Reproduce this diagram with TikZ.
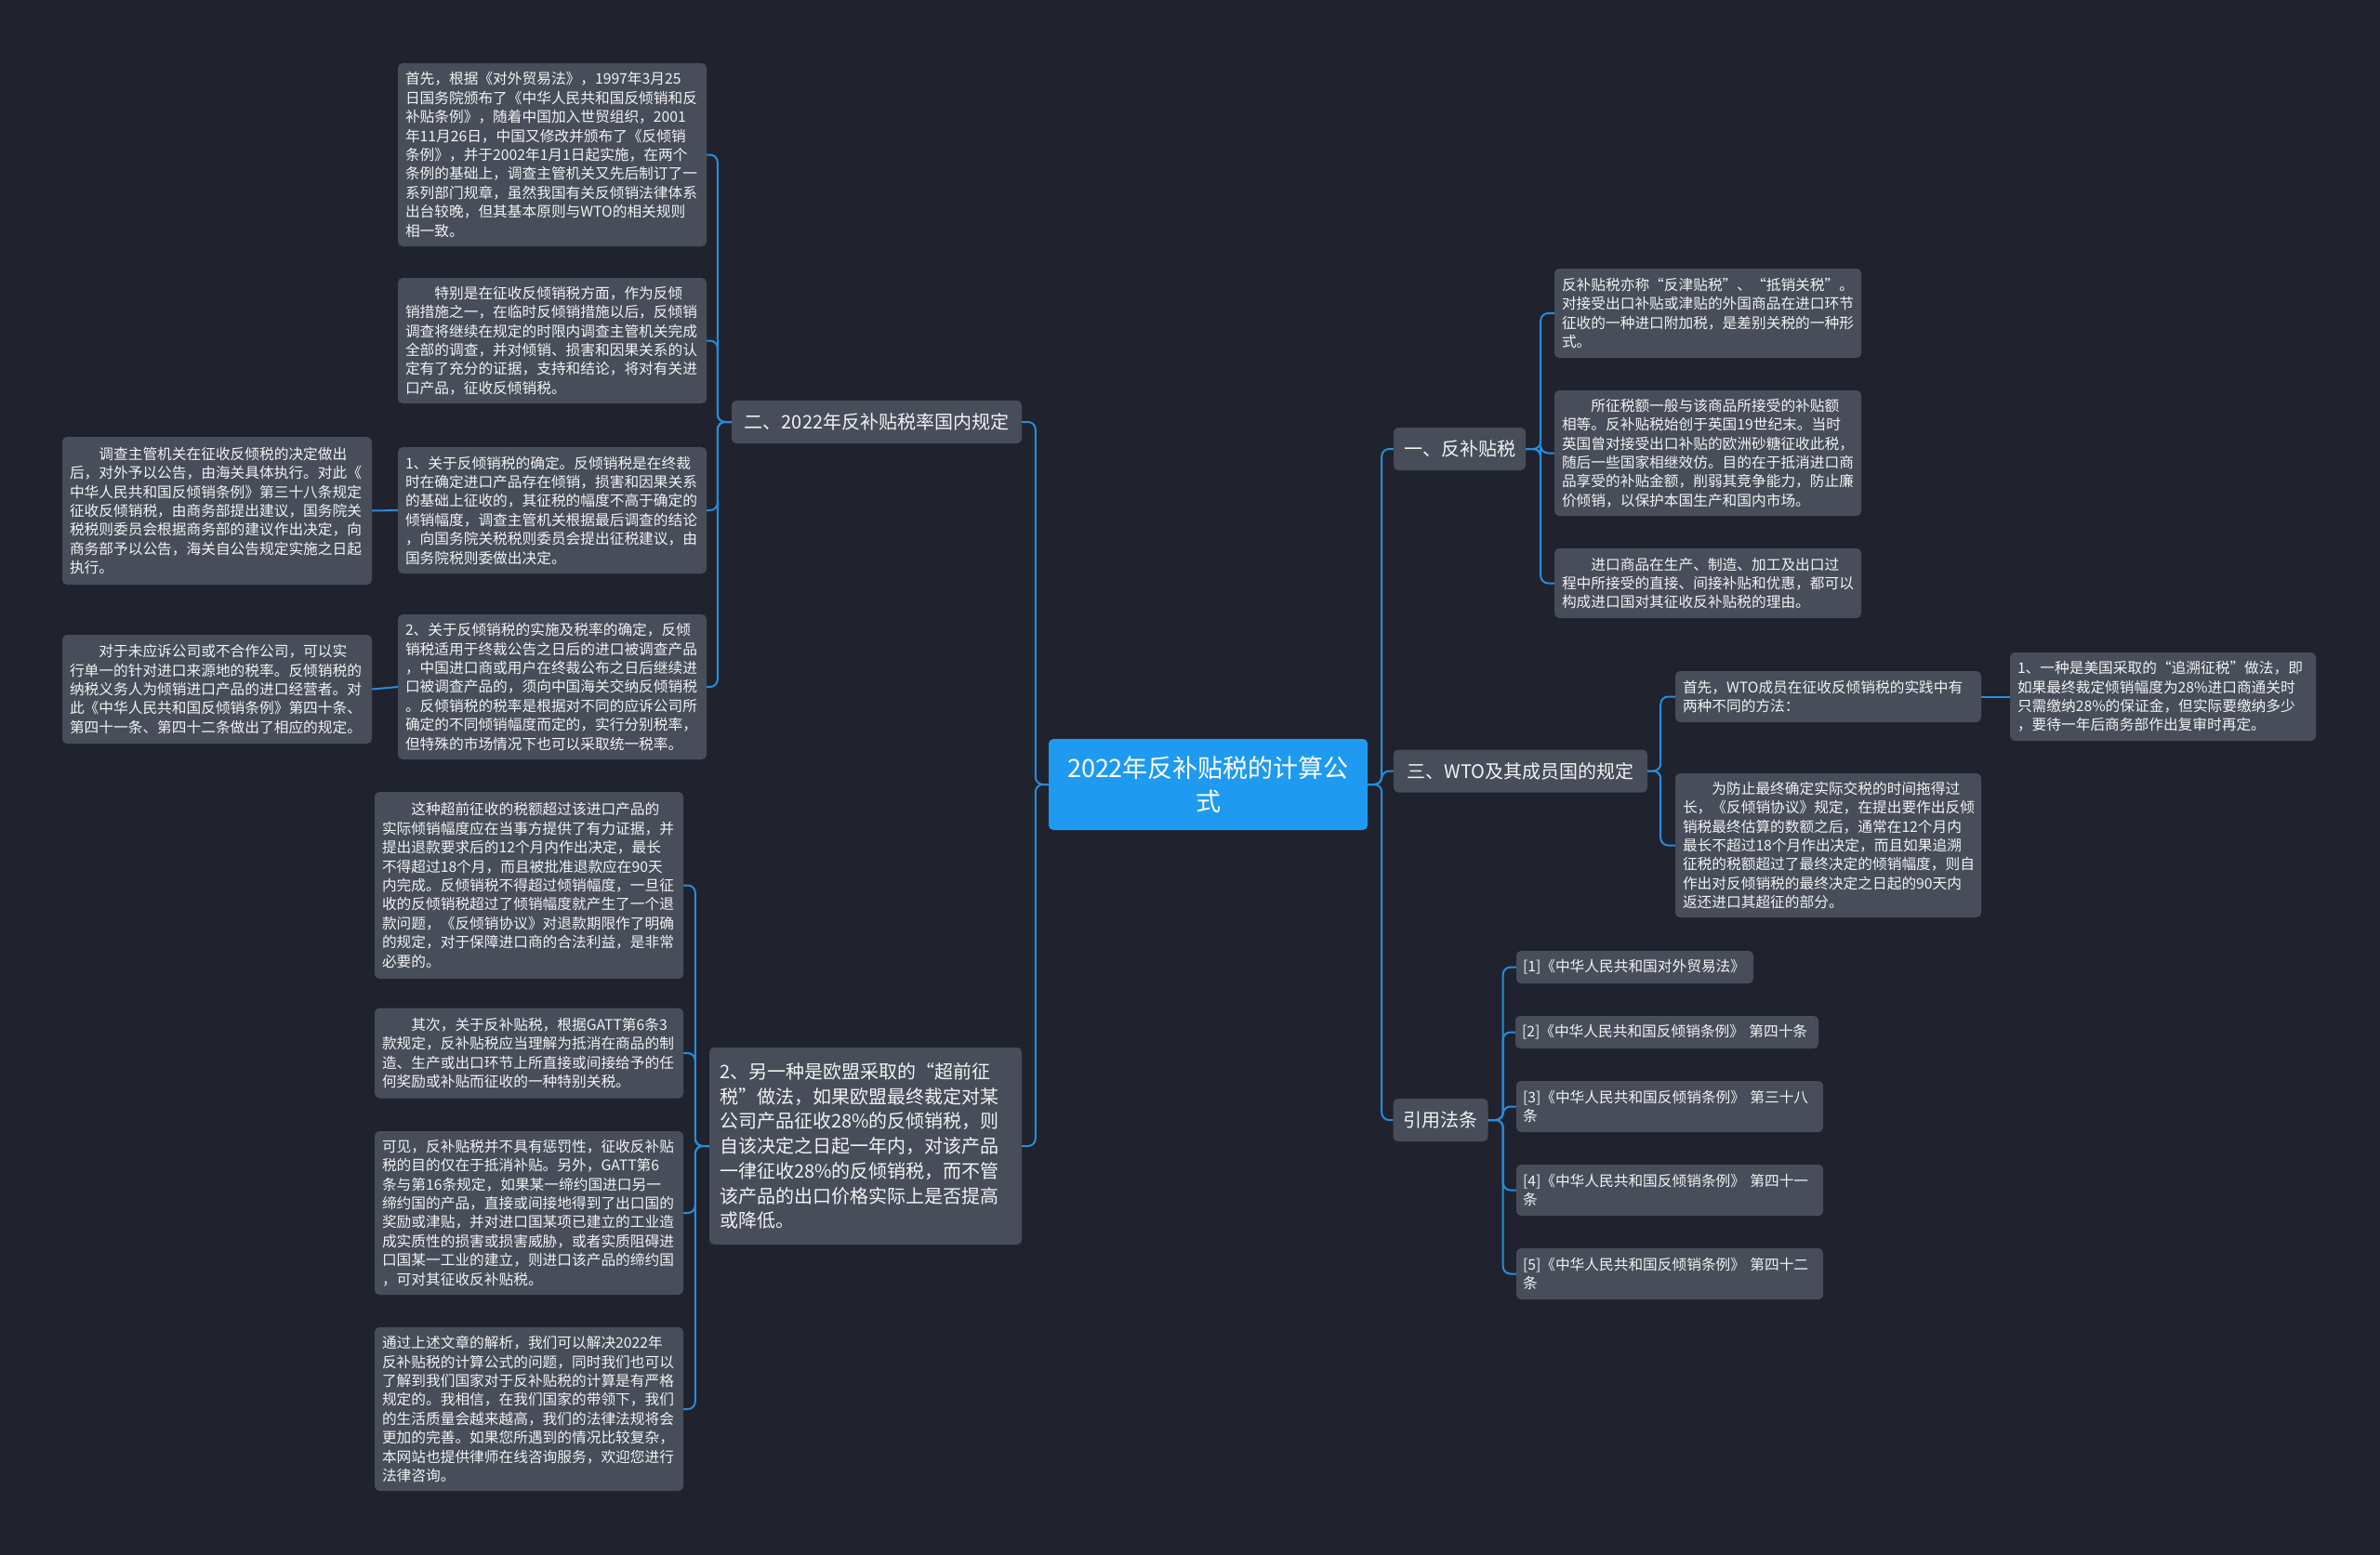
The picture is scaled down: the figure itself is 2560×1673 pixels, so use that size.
\documentclass[tikz,border=0pt]{standalone}
\usepackage{fontspec}
\setmainfont{Noto Sans CJK SC}
\setlength{\parindent}{0pt}
\definecolor{bgc}{HTML}{20232D}
\definecolor{boxc}{HTML}{484D5A}
\definecolor{rootc}{HTML}{1E9AF0}
\definecolor{linec}{HTML}{278CDC}
\definecolor{txtc}{HTML}{F2F2F2}
\newcommand{\ind}{\hspace*{2em}}
\begin{document}
\begin{tikzpicture}[x=1pt, y=-1pt,
    box/.style={fill=boxc, rounded corners=5pt, text=txtc, align=left,
      inner xsep=8pt, inner ysep=0pt, font=\fontsize{15.7}{20.4}\selectfont},
    lvl/.style={box, inner xsep=11pt, minimum height=46pt, font=\fontsize{20}{26.7}\selectfont},
    link/.style={draw=linec, line width=2pt, rounded corners=8pt}]
    % nen va khung
    \fill[bgc] (0,0) rectangle (2560,1673);
    \useasboundingbox (0,0) rectangle (2560,1673);
    % nut goc
    \node[fill=rootc, rounded corners=5pt, text=white, align=center, minimum width=343pt,
      minimum height=98pt, font=\fontsize{27}{36}\selectfont] (root) at (1299.5,844)
      {2022年反补贴税的计算公\\式};
    % nhanh cap 1
    \node[lvl, minimum width=312pt] (guonei) at (943,454) {二、2022年反补贴税率国内规定};
    \node[lvl, text width=314pt, minimum height=212pt] (oumeng) at (931,1233)
      {2、另一种是欧盟采取的“超前征\\税”做法，如果欧盟最终裁定对某\\公司产品征收28\%的反倾销税，则\\自该决定之日起一年内，对该产品\\一律征收28\%的反倾销税，而不管\\该产品的出口价格实际上是否提高\\或降低。};
    \node[lvl, minimum width=142pt] (fanbutie) at (1570,483) {一、反补贴税};
    \node[lvl, minimum width=273pt] (wto) at (1635.5,829.5) {三、WTO及其成员国的规定};
    \node[lvl, minimum width=101pt] (fatiao) at (1549.5,1205) {引用法条};
    % nhanh trai tren
    \node[box, text width=316pt, minimum height=197pt] (gn1) at (594,166.5)
      {首先，根据《对外贸易法》，1997年3月25\\日国务院颁布了《中华人民共和国反倾销和反\\补贴条例》，随着中国加入世贸组织，2001\\年11月26日，中国又修改并颁布了《反倾销\\条例》，并于2002年1月1日起实施，在两个\\条例的基础上，调查主管机关又先后制订了一\\系列部门规章，虽然我国有关反倾销法律体系\\出台较晚，但其基本原则与WTO的相关规则\\相一致。};
    \node[box, text width=316pt, minimum height=135pt] (gn2) at (594,366.5)
      {\ind 特别是在征收反倾销税方面，作为反倾\\销措施之一，在临时反倾销措施以后，反倾销\\调查将继续在规定的时限内调查主管机关完成\\全部的调查，并对倾销、损害和因果关系的认\\定有了充分的证据，支持和结论，将对有关进\\口产品，征收反倾销税。};
    \node[box, text width=316pt, minimum height=136pt] (gn3) at (594,549)
      {1、关于反倾销税的确定。反倾销税是在终裁\\时在确定进口产品存在倾销，损害和因果关系\\的基础上征收的，其征税的幅度不高于确定的\\倾销幅度，调查主管机关根据最后调查的结论\\，向国务院关税税则委员会提出征税建议，由\\国务院税则委做出决定。};
    \node[box, text width=316pt, minimum height=156pt] (gn4) at (594,739)
      {2、关于反倾销税的实施及税率的确定，反倾\\销税适用于终裁公告之日后的进口被调查产品\\，中国进口商或用户在终裁公布之日后继续进\\口被调查产品的，须向中国海关交纳反倾销税\\。反倾销税的税率是根据对不同的应诉公司所\\确定的不同倾销幅度而定的，实行分别税率，\\但特殊的市场情况下也可以采取统一税率。};
    \node[box, text width=317pt, minimum height=159pt] (gn3x) at (233.5,549.5)
      {\ind 调查主管机关在征收反倾税的决定做出\\后，对外予以公告，由海关具体执行。对此《\\中华人民共和国反倾销条例》第三十八条规定\\征收反倾销税，由商务部提出建议，国务院关\\税税则委员会根据商务部的建议作出决定，向\\商务部予以公告，海关自公告规定实施之日起\\执行。};
    \node[box, text width=317pt, minimum height=117pt] (gn4x) at (233.5,741.5)
      {\ind 对于未应诉公司或不合作公司，可以实\\行单一的针对进口来源地的税率。反倾销税的\\纳税义务人为倾销进口产品的进口经营者。对\\此《中华人民共和国反倾销条例》第四十条、\\第四十一条、第四十二条做出了相应的规定。};
    % nhanh trai duoi
    \node[box, text width=316pt, minimum height=201pt] (om1) at (569,952.5)
      {\ind 这种超前征收的税额超过该进口产品的\\实际倾销幅度应在当事方提供了有力证据，并\\提出退款要求后的12个月内作出决定，最长\\不得超过18个月，而且被批准退款应在90天\\内完成。反倾销税不得超过倾销幅度，一旦征\\收的反倾销税超过了倾销幅度就产生了一个退\\款问题，《反倾销协议》对退款期限作了明确\\的规定，对于保障进口商的合法利益，是非常\\必要的。};
    \node[box, text width=316pt, minimum height=97pt] (om2) at (569,1133)
      {\ind 其次，关于反补贴税，根据GATT第6条3\\款规定，反补贴税应当理解为抵消在商品的制\\造、生产或出口环节上所直接或间接给予的任\\何奖励或补贴而征收的一种特别关税。};
    \node[box, text width=316pt, minimum height=176pt] (om3) at (569,1305)
      {可见，反补贴税并不具有惩罚性，征收反补贴\\税的目的仅在于抵消补贴。另外，GATT第6\\条与第16条规定，如果某一缔约国进口另一\\缔约国的产品，直接或间接地得到了出口国的\\奖励或津贴，并对进口国某项已建立的工业造\\成实质性的损害或损害威胁，或者实质阻碍进\\口国某一工业的建立，则进口该产品的缔约国\\，可对其征收反补贴税。};
    \node[box, text width=316pt, minimum height=176pt] (om4) at (569,1516)
      {通过上述文章的解析，我们可以解决2022年\\反补贴税的计算公式的问题，同时我们也可以\\了解到我们国家对于反补贴税的计算是有严格\\规定的。我相信，在我们国家的带领下，我们\\的生活质量会越来越高，我们的法律法规将会\\更加的完善。如果您所遇到的情况比较复杂，\\本网站也提供律师在线咨询服务，欢迎您进行\\法律咨询。};
    % nhanh phai
    \node[box, text width=314pt, minimum height=96pt] (fb1) at (1837,337)
      {反补贴税亦称“反津贴税”、“抵销关税”。\\对接受出口补贴或津贴的外国商品在进口环节\\征收的一种进口附加税，是差别关税的一种形\\式。};
    \node[box, text width=314pt, minimum height=135pt] (fb2) at (1837,487.5)
      {\ind 所征税额一般与该商品所接受的补贴额\\相等。反补贴税始创于英国19世纪末。当时\\英国曾对接受出口补贴的欧洲砂糖征收此税，\\随后一些国家相继效仿。目的在于抵消进口商\\品享受的补贴金额，削弱其竞争能力，防止廉\\价倾销，以保护本国生产和国内市场。};
    \node[box, text width=314pt, minimum height=75pt] (fb3) at (1837,627.5)
      {\ind 进口商品在生产、制造、加工及出口过\\程中所接受的直接、间接补贴和优惠，都可以\\构成进口国对其征收反补贴税的理由。};
    \node[box, text width=313pt, minimum height=55pt] (wt1) at (1966.5,749.5)
      {首先，WTO成员在征收反倾销税的实践中有\\两种不同的方法：};
    \node[box, text width=313pt, minimum height=95pt] (wt1x) at (2326.5,749.5)
      {1、一种是美国采取的“追溯征税”做法，即\\如果最终裁定倾销幅度为28\%进口商通关时\\只需缴纳28\%的保证金，但实际要缴纳多少\\，要待一年后商务部作出复审时再定。};
    \node[box, text width=313pt, minimum height=155pt] (wt2) at (1966.5,909.5)
      {\ind 为防止最终确定实际交税的时间拖得过\\长，《反倾销协议》规定，在提出要作出反倾\\销税最终估算的数额之后，通常在12个月内\\最长不超过18个月作出决定，而且如果追溯\\征税的税额超过了最终决定的倾销幅度，则自\\作出对反倾销税的最终决定之日起的90天内\\返还进口其超征的部分。};
    % phap dieu
    \node[box, inner xsep=7pt, text width=241pt, minimum height=35pt] (ft1) at (1758.5,1040.5)
      {[1]《中华人民共和国对外贸易法》};
    \node[box, inner xsep=7pt, text width=312pt, minimum height=35pt] (ft2) at (1793,1110.5)
      {[2]《中华人民共和国反倾销条例》~第四十条};
    \node[box, inner xsep=7pt, text width=316pt, minimum height=55pt] (ft3) at (1796,1190.5)
      {[3]《中华人民共和国反倾销条例》~第三十八\\条};
    \node[box, inner xsep=7pt, text width=316pt, minimum height=55pt] (ft4) at (1796,1280.5)
      {[4]《中华人民共和国反倾销条例》~第四十一\\条};
    \node[box, inner xsep=7pt, text width=316pt, minimum height=55pt] (ft5) at (1796,1370.5)
      {[5]《中华人民共和国反倾销条例》~第四十二\\条};
    % duong noi
    \foreach \n in {guonei,oumeng} \draw[link] (root.west) -- ++(-14,0) |- (\n.east);
    \foreach \n in {fanbutie,wto,fatiao} \draw[link] (root.east) -- ++(15,0) |- (\n.west);
    \foreach \n in {gn1,gn2,gn3,gn4} \draw[link] (guonei.west) -- ++(-15,0) |- (\n.east);
    \draw[link] (gn3.west) -- (gn3x.east);
    \draw[link] (gn4.west) -- (gn4x.east);
    \foreach \n in {om1,om2,om3,om4} \draw[link] (oumeng.west) -- ++(-15,0) |- (\n.east);
    \foreach \n in {fb1,fb2,fb3} \draw[link] (fanbutie.east) -- ++(16,0) |- (\n.west);
    \foreach \n in {wt1,wt2} \draw[link] (wto.east) -- ++(14,0) |- (\n.west);
    \draw[link] (wt1.east) -- (wt1x.west);
    \foreach \n in {ft1,ft2,ft3,ft4,ft5} \draw[link] (fatiao.east) -- ++(16,0) |- (\n.west);
\end{tikzpicture}
\end{document}
